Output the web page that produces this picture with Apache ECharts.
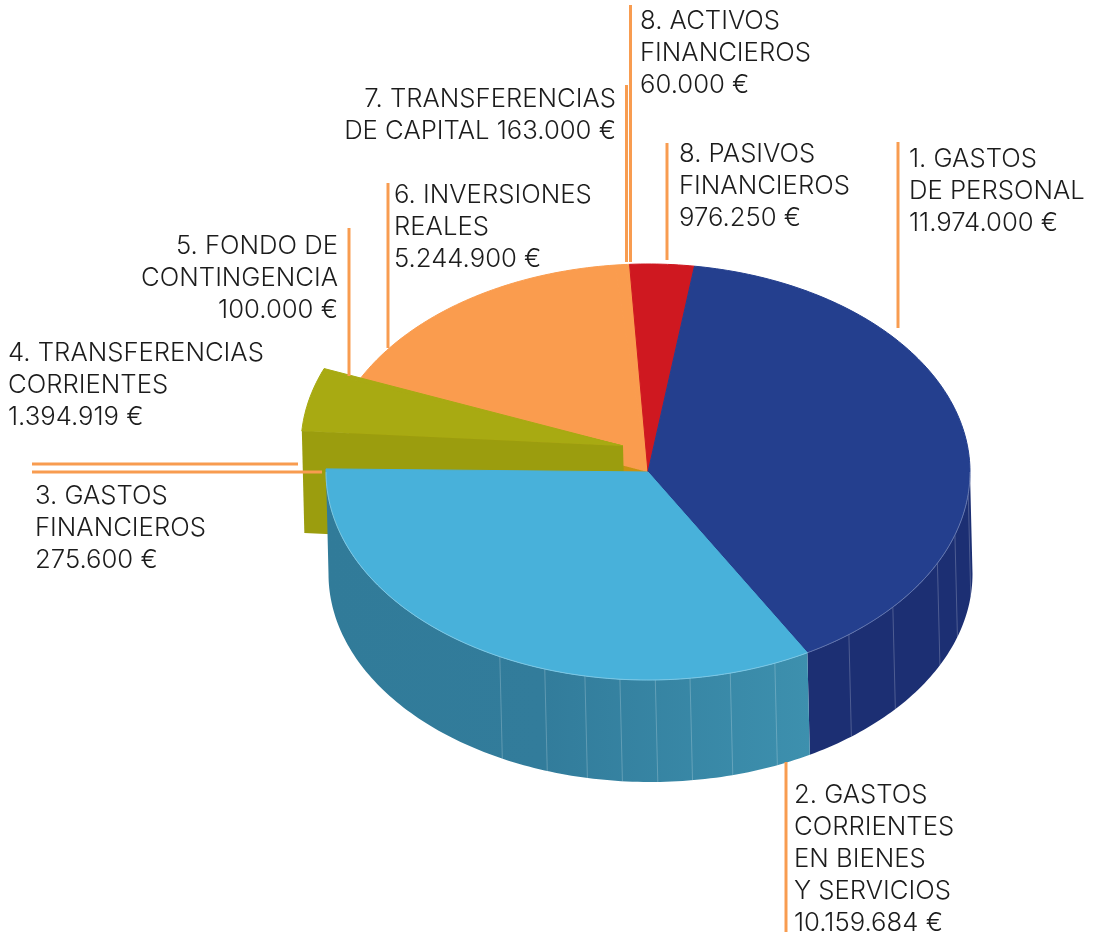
<!DOCTYPE html>
<html>
<head>
<meta charset="utf-8">
<style>html,body{margin:0;padding:0;background:#fff}#c{width:1096px;height:934px}</style>
<script src="https://cdn.jsdelivr.net/npm/echarts@6/dist/echarts.min.js"></script>
</head>
<body>
<div id="c"></div>
<script>
// ---- data ----
const captions = [
  '1. GASTOS\nDE PERSONAL\n',
  '2. GASTOS\nCORRIENTES\nEN BIENES\nY SERVICIOS\n',
  '3. GASTOS\nFINANCIEROS\n',
  '4. TRANSFERENCIAS\nCORRIENTES\n',
  '5. FONDO DE\nCONTINGENCIA\n',
  '6. INVERSIONES\nREALES\n',
  '7. TRANSFERENCIAS\nDE CAPITAL ',
  '8. ACTIVOS\nFINANCIEROS\n',
  '8. PASIVOS\nFINANCIEROS\n'
];
const amounts = [11974000, 10159684, 275600, 1394919, 100000, 5244900, 163000, 60000, 976250];

// ---- styling and layout (kept apart from the data) ----
const topColors  = ['#243f8e', '#48b1da', '#c8920f', '#a8aa12', '#a8aa12', '#fa9c4e', '#fa9c4e', '#fa9c4e', '#cf1820'];
const exploded   = [false, false, false, true, true, false, false, false, false];
const labelAnchor = [[909,143,'left'],[794,779,'left'],[35,480,'left'],[8,337,'left'],[338,230,'right'],[394,179,'left'],[616,83,'right'],[640,5,'left'],[679,138,'left']];
const leaders = [[898,142,898,328],[786,762,786,932],[32,472,322,472],[32,464,298,464],[349,228,349,376],[388,183,388,348],[626.5,85,626.5,262],[630.5,5,630.5,262],[667,143,667,260]];
const facetAngles = [96,107.6,116,130.5,141.4,156.8,165.2,172.5,178.7,185,191.3,198.7,207.4];

const PIE = {cx:648, cy:472, rx:322, ry:208, depthX:2.5, depthY:102, start:8.3, explodeX:-25, explodeY:-26};
const FONT = '300 25.7px Inter, Roboto, "Liberation Sans", sans-serif';

const total = amounts.reduce((a,b)=>a+b,0);
const starts = [];
amounts.reduce((acc,v,i)=>{starts[i]=acc;return acc+v/total*360;},PIE.start);

const fmtEuro = v => String(v).replace(/\B(?=(\d{3})+$)/g,'.') + ' €';
const rad = d => d*Math.PI/180;
const pt = (t,ox,oy) => [PIE.cx+(ox||0)+PIE.rx*Math.sin(rad(t)), PIE.cy+(oy||0)-PIE.ry*Math.cos(rad(t))];
function arc(a,b,ox,oy){
  const out=[], n=Math.max(2,Math.ceil(Math.abs(b-a)));
  for(let k=0;k<=n;k++) out.push(pt(a+(b-a)*k/n,ox,oy));
  return out;
}
const poly = (points,fill,z2,extra) => ({type:'polygon',z2,silent:true,shape:{points},style:Object.assign({fill},extra||{})});
const seg = (p,q,stroke,w,z2) => ({type:'line',z2,silent:true,shape:{x1:p[0],y1:p[1],x2:q[0],y2:q[1]},style:{stroke,lineWidth:w}});

function renderSlice(params,api){
  const i = params.dataIndex;
  const v = api.value(0);
  const a = starts[i], b = a + v/total*360;
  const ox = exploded[i]?PIE.explodeX:0, oy = exploded[i]?PIE.explodeY:0;
  const c = [PIE.cx+ox, PIE.cy+oy];
  const kids = [];
  const front = i<2;
  const baseZ = front ? 40 : (exploded[i]?20:(i===8?11:10));

  // top face
  kids.push(poly([c].concat(arc(a,b,ox,oy)), topColors[i], baseZ+2, {stroke:topColors[i],lineWidth:1}));

  if(i===0 || i===1){
    // outer wall
    const wa=Math.max(a,90), wb=Math.min(b,270);
    const upper=arc(wa,wb), lower=arc(wb,wa,PIE.depthX,PIE.depthY);
    const fill = i===0 ? '#1c2f73' : new echarts.graphic.LinearGradient(0,0,1,0,[
      {offset:0,color:'#317b99'},{offset:0.45,color:'#327c9b'},{offset:1,color:'#3d90ae'}]);
    kids.push(poly(upper.concat(lower), fill, baseZ));
    facetAngles.filter(t=>t>wa&&t<wb).forEach(t=>{
      kids.push(seg(pt(t),pt(t,PIE.depthX,PIE.depthY),'rgba(255,255,255,0.22)',1,baseZ+1));
    });
    kids.push({type:'polyline',z2:baseZ+3,silent:true,shape:{points:upper},
      style:{stroke:'rgba(255,255,255,0.35)',lineWidth:0.8,fill:'none'}});
  }
  if(i===3){
    // cut face of the pulled-out slice
    const o=pt(a,ox,oy);
    kids.push(poly([o,c,[c[0]+PIE.depthX,c[1]+PIE.depthY],[o[0]+PIE.depthX,o[1]+PIE.depthY]],'#9b9d0e',baseZ+5));
  }
  if(i===5){
    // cut face left open by the pulled-out slice
    const o=pt(a);
    kids.push(poly([o,c,[c[0],c[1]+PIE.depthY],[o[0],o[1]+PIE.depthY]],'#c8920f',15));
  }
  // leader
  const L=leaders[i];
  kids.push(seg([L[0],L[1]],[L[2],L[3]],'#f89c50',3,90));
  // caption
  const A=labelAnchor[i];
  kids.push({type:'text',z2:95,silent:true,style:{
    x:A[0],y:A[1],text:captions[i]+fmtEuro(v),font:FONT,fill:'#1c1c1c',
    textAlign:A[2],textVerticalAlign:'top',lineHeight:32}});
  return {type:'group',children:kids};
}

const chart = echarts.init(document.getElementById('c'),null,{renderer:'canvas'});
chart.setOption({
  animation:false,
  backgroundColor:'#ffffff',
  xAxis:{show:false},yAxis:{show:false},
  series:[{
    type:'custom',
    coordinateSystem:'none',
    renderItem:renderSlice,
    data:amounts.map((v,i)=>({name:captions[i],value:[v]})),
    silent:true
  }]
});
</script>
</body>
</html>
